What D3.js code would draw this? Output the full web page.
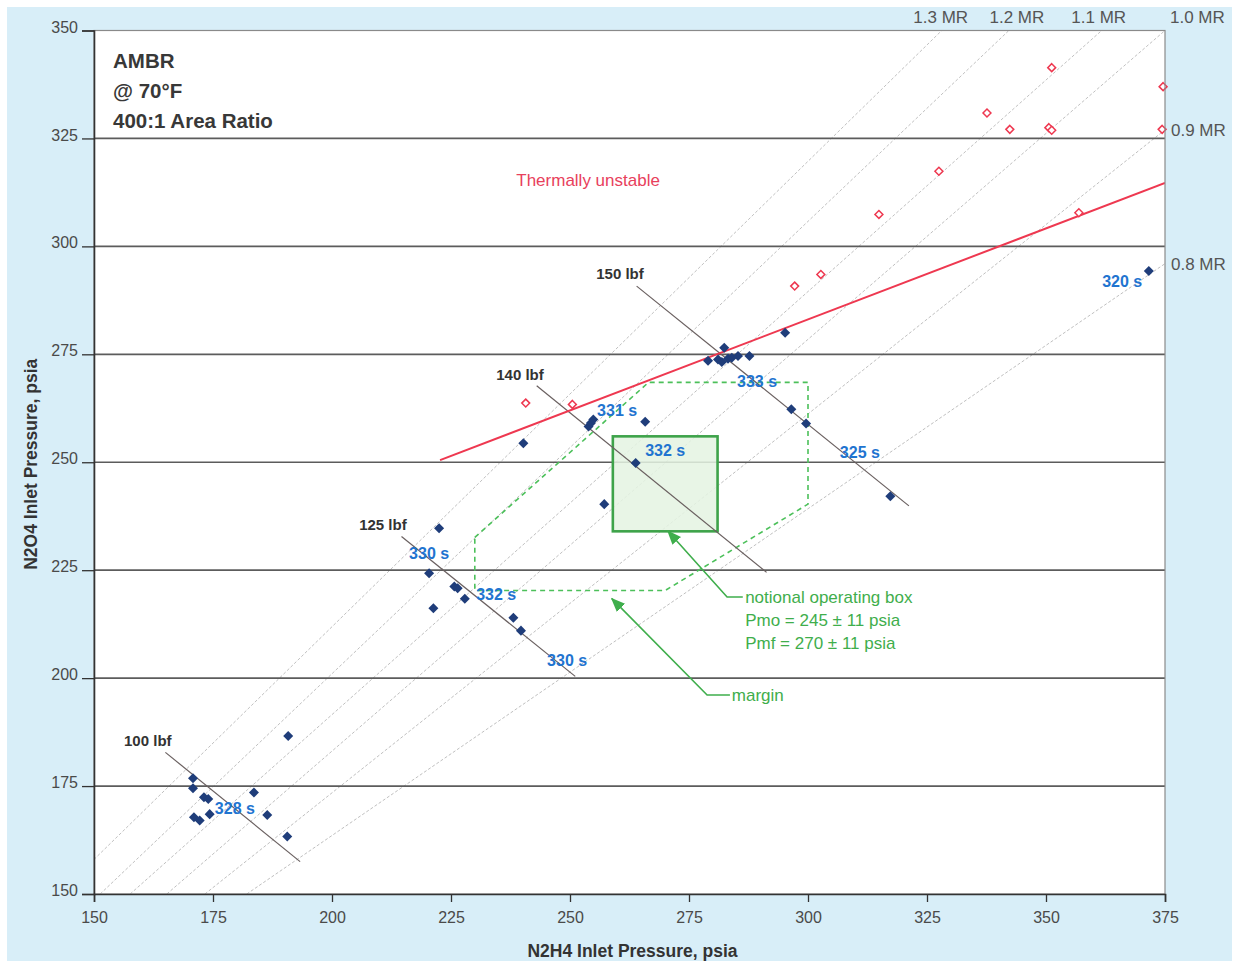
<!DOCTYPE html>
<html>
<head>
<meta charset="utf-8">
<script src="https://cdn.jsdelivr.net/npm/d3@7/dist/d3.min.js"></script>
<style>
  html, body { margin: 0; padding: 0; background: #ffffff; }
  svg { display: block; }
</style>
</head>
<body>
<svg id="chart" width="1237" height="964"></svg>
<script>
// ---- Axis ticks ----
const xTicks = [150, 175, 200, 225, 250, 275, 300, 325, 350, 375];
const yTicks = [150, 175, 200, 225, 250, 275, 300, 325, 350];
const gridLevels = [175, 200, 225, 250, 275, 300, 325];

// ---- Mixture-ratio reference lines (N2H4 psia, N2O4 psia) ----
const mrNames = ["1.3 MR", "1.2 MR", "1.1 MR", "1.0 MR", "0.9 MR", "0.8 MR"];
const mrUpper = [[328.1, 350], [342.2, 350], [361.7, 350], [375, 350], [375, 327], [375, 296]];
const mrLower = [[150, 158], [151.3, 150], [157.6, 150], [165.3, 150], [173.3, 150], [182.1, 150]];

// ---- Constant-thrust lines ----
const thrustNames = ["100 lbf", "125 lbf", "140 lbf", "150 lbf"];
const thrustStart = [[165.0, 182.8], [214.6, 232.8], [243.0, 267.7], [264.0, 290.8]];
const thrustEnd = [[193.3, 157.5], [251.1, 200.4], [291.3, 224.5], [321.2, 239.9]];

// ---- Stable test points (N2H4 psia, N2O4 psia) ----
const stableFuel = [
  190.8, 170.8, 170.8, 173.1, 174.0, 183.6, 174.3, 171.0, 172.2, 186.4, 190.6,
  222.5, 220.4, 225.7, 226.4, 227.9, 221.3, 238.1, 239.7,
  240.2, 253.9, 254.4, 254.9, 265.8, 263.8, 257.2,
  295.2, 282.4, 279.0, 281.1, 281.9, 283.2, 284.0, 285.3, 287.7, 296.5, 299.6, 317.3,
  371.6
];
const stableOx = [
  186.6, 176.8, 174.5, 172.4, 172.0, 173.5, 168.5, 167.8, 167.0, 168.3, 163.3,
  234.7, 224.3, 221.2, 220.8, 218.4, 216.2, 214.0, 211.0,
  254.4, 258.3, 259.1, 259.9, 259.4, 249.8, 240.3,
  280.0, 276.5, 273.5, 273.8, 273.2, 274.0, 274.2, 274.6, 274.6, 262.3, 259.0, 242.1,
  294.3
];

// ---- Thermally unstable test points ----
const unstableFuel = [351.2, 374.6, 337.6, 342.4, 350.6, 351.2, 374.4, 327.5, 314.9, 356.9, 297.2, 302.7, 240.7, 250.5];
const unstableOx = [341.4, 337.0, 330.9, 327.1, 327.5, 326.9, 327.1, 317.4, 307.4, 307.8, 290.8, 293.5, 263.7, 263.4];

// ---- Thermal stability boundary ----
const boundaryFuel = [222.7, 375];
const boundaryOx = [250.5, 314.7];

// ---- Operating box and margin envelope ----
const boxFuel = [259, 281];   // Pmf = 270 +/- 11
const boxOx = [234, 256];     // Pmo = 245 +/- 11
const marginFuel = [230.0, 266.5, 300.0, 300.0, 270.0, 230.0];
const marginOx = [232.6, 268.5, 268.5, 240.3, 220.3, 220.3];

// ---- Specific impulse labels ----
const ispText = ["328 s", "330 s", "332 s", "330 s", "331 s", "332 s", "333 s", "325 s", "320 s"];
const ispFuel = [179.6, 220.4, 234.5, 249.4, 259.9, 270.0, 289.3, 310.9, 366.0];
const ispOx = [169.9, 228.8, 219.3, 204.0, 262.1, 252.8, 268.8, 252.2, 291.8];

// ---- Layout ----
const svg = d3.select("#chart");
const W = 1237, H = 964;
const plot = { left: 94, right: 1165, top: 30.5, bottom: 894 };

const x = d3.scaleLinear().domain([150, 375]).range([plot.left, plot.right]);
const y = d3.scaleLinear().domain([150, 350]).range([plot.bottom, plot.top]);

const fontMain = "'Liberation Sans', Arial, sans-serif";
const fontNarrow = "'Liberation Sans Narrow', 'Liberation Sans', Arial, sans-serif";

// page backdrop
svg.append("rect").attr("x", 0).attr("y", 0).attr("width", W).attr("height", H).attr("fill", "#ffffff");
svg.append("rect").attr("x", 7).attr("y", 7).attr("width", W - 12).attr("height", H - 10).attr("fill", "#d8eef8");

// plot area
svg.append("rect")
  .attr("x", plot.left).attr("y", plot.top)
  .attr("width", plot.right - plot.left).attr("height", plot.bottom - plot.top)
  .attr("fill", "#ffffff");

const defs = svg.append("defs");
defs.append("clipPath").attr("id", "plotClip")
  .append("rect")
  .attr("x", plot.left).attr("y", plot.top)
  .attr("width", plot.right - plot.left).attr("height", plot.bottom - plot.top);

const inner = svg.append("g").attr("clip-path", "url(#plotClip)");

// mixture-ratio lines
inner.append("g").selectAll("line")
  .data(d3.range(mrUpper.length))
  .join("line")
  .attr("x1", i => x(mrLower[i][0])).attr("y1", i => y(mrLower[i][1]))
  .attr("x2", i => x(mrUpper[i][0])).attr("y2", i => y(mrUpper[i][1]))
  .attr("stroke", "#c0c0c0").attr("stroke-width", 1)
  .attr("stroke-dasharray", "3,2");

// horizontal grid lines
inner.append("g").selectAll("line")
  .data(gridLevels)
  .join("line")
  .attr("x1", plot.left).attr("x2", plot.right)
  .attr("y1", d => y(d)).attr("y2", d => y(d))
  .attr("stroke", "#5c5c5c").attr("stroke-width", 1.7);

// margin envelope
const marginPts = marginFuel.map((f, i) => [x(f), y(marginOx[i])]);
inner.append("path")
  .attr("d", d3.line()(marginPts) + "Z")
  .attr("fill", "none").attr("stroke", "#4cc05a").attr("stroke-width", 1.6)
  .attr("stroke-dasharray", "5,4");

// notional operating box
inner.append("rect")
  .attr("x", x(boxFuel[0])).attr("y", y(boxOx[1]))
  .attr("width", x(boxFuel[1]) - x(boxFuel[0]))
  .attr("height", y(boxOx[0]) - y(boxOx[1]))
  .attr("fill", "#e4f3e2").attr("fill-opacity", 0.85)
  .attr("stroke", "#3ea34a").attr("stroke-width", 2.6);

// constant-thrust lines
inner.append("g").selectAll("line")
  .data(d3.range(thrustStart.length))
  .join("line")
  .attr("x1", i => x(thrustStart[i][0])).attr("y1", i => y(thrustStart[i][1]))
  .attr("x2", i => x(thrustEnd[i][0])).attr("y2", i => y(thrustEnd[i][1]))
  .attr("stroke", "#6a6060").attr("stroke-width", 1.2);

// thermal stability boundary
inner.append("line")
  .attr("x1", x(boundaryFuel[0])).attr("y1", y(boundaryOx[0]))
  .attr("x2", x(boundaryFuel[1])).attr("y2", y(boundaryOx[1]))
  .attr("stroke", "#ee3850").attr("stroke-width", 2);

// diamond symbols
const diamond = d3.symbol().type(d3.symbolDiamond2 || d3.symbolDiamond).size(64);
const openDiamond = d3.symbol().type(d3.symbolDiamond2 || d3.symbolDiamond).size(40);

svg.append("g").selectAll("path")
  .data(d3.range(unstableFuel.length))
  .join("path")
  .attr("transform", i => `translate(${x(unstableFuel[i])},${y(unstableOx[i])})`)
  .attr("d", openDiamond)
  .attr("fill", "#ffffff").attr("stroke", "#ee3850").attr("stroke-width", 1.5);

svg.append("g").selectAll("path")
  .data(d3.range(stableFuel.length))
  .join("path")
  .attr("transform", i => `translate(${x(stableFuel[i])},${y(stableOx[i])})`)
  .attr("d", diamond)
  .attr("fill", "#1f3d7a");

// plot frame
svg.append("rect")
  .attr("x", plot.left).attr("y", plot.top)
  .attr("width", plot.right - plot.left).attr("height", plot.bottom - plot.top)
  .attr("fill", "none").attr("stroke", "#8a8a8a").attr("stroke-width", 1.2);

// axes
const xAxis = d3.axisBottom(x).tickValues(xTicks).tickSize(8).tickPadding(10);
const yAxis = d3.axisLeft(y).tickValues(yTicks).tickSize(12).tickPadding(4);

const gx = svg.append("g").attr("transform", `translate(0,${plot.bottom})`).call(xAxis);
const gy = svg.append("g").attr("transform", `translate(${plot.left},0)`).call(yAxis);
[gx, gy].forEach(g => {
  g.select(".domain").attr("stroke", "#333").attr("stroke-width", 1.6);
  g.selectAll(".tick line").attr("stroke", "#333").attr("stroke-width", 1.3);
  g.selectAll(".tick text")
    .attr("fill", "#4a4a4a").attr("font-family", fontMain).attr("font-size", 16);
});
gy.selectAll(".tick text").attr("dy", "0.1em");

// axis titles
svg.append("text")
  .attr("x", (plot.left + plot.right) / 2 + 3).attr("y", 957)
  .attr("text-anchor", "middle")
  .attr("font-family", fontNarrow).attr("font-weight", "bold").attr("font-size", 17.5)
  .attr("fill", "#333")
  .text("N2H4 Inlet Pressure, psia");

svg.append("text")
  .attr("transform", `translate(37,${(plot.top + plot.bottom) / 2 + 2}) rotate(-90)`)
  .attr("text-anchor", "middle")
  .attr("font-family", fontNarrow).attr("font-weight", "bold").attr("font-size", 17.5)
  .attr("fill", "#333")
  .text("N2O4 Inlet Pressure, psia");

// mixture-ratio labels
const mrLabelG = svg.append("g")
  .attr("font-family", fontMain).attr("font-size", 17).attr("fill", "#555");
mrNames.forEach((name, i) => {
  const [ux, uy] = mrUpper[i];
  const onTop = uy >= 350 && ux < 375;
  if (onTop) {
    const shift = name === "1.2 MR" ? 8 : (name === "1.1 MR" ? -3 : -1);
    mrLabelG.append("text")
      .attr("x", x(ux) + shift).attr("y", plot.top - 8)
      .attr("text-anchor", "middle")
      .text(name);
  } else if (uy >= 350) {
    mrLabelG.append("text")
      .attr("x", plot.right + 5).attr("y", plot.top - 8)
      .attr("text-anchor", "start")
      .text(name);
  } else {
    mrLabelG.append("text")
      .attr("x", plot.right + 6).attr("y", y(uy) + 6)
      .attr("text-anchor", "start")
      .text(name);
  }
});

// thrust labels
svg.append("g").selectAll("text")
  .data(thrustNames)
  .join("text")
  .attr("x", (d, i) => x([161.3, 210.7, 239.5, 260.5][i]))
  .attr("y", (d, i) => y([185.5, 235.5, 270.2, 293.6][i]))
  .attr("dy", "0.35em")
  .attr("text-anchor", "middle")
  .attr("font-family", fontMain).attr("font-weight", "bold").attr("font-size", 15)
  .attr("fill", "#333")
  .text(d => d);

// specific impulse labels
svg.append("g").selectAll("text")
  .data(ispText)
  .join("text")
  .attr("x", (d, i) => x(ispFuel[i]))
  .attr("y", (d, i) => y(ispOx[i]))
  .attr("dy", "0.35em")
  .attr("text-anchor", "middle")
  .attr("font-family", fontNarrow).attr("font-weight", "bold").attr("font-size", 16)
  .attr("fill", "#1f74d0")
  .text(d => d);

// title block
const title = svg.append("g")
  .attr("font-family", fontMain).attr("font-weight", "bold").attr("font-size", 20.5).attr("fill", "#383838");
["AMBR", "@ 70\u00B0F", "400:1 Area Ratio"].forEach((t, i) => {
  title.append("text").attr("x", 113).attr("y", 68 + i * 30).text(t);
});

// region label
svg.append("text")
  .attr("x", x(253.8)).attr("y", y(315.4)).attr("dy", "0.35em")
  .attr("text-anchor", "middle")
  .attr("font-family", fontMain).attr("font-size", 17)
  .attr("fill", "#e8405c")
  .text("Thermally unstable");

// green callouts
const green = "#3fae4c";
defs.append("marker")
  .attr("id", "arrowGreen").attr("viewBox", "0 0 10 10")
  .attr("refX", 9).attr("refY", 5)
  .attr("markerWidth", 9).attr("markerHeight", 9)
  .attr("orient", "auto")
  .append("path").attr("d", "M0,1 L10,5 L0,9 Z").attr("fill", green);

const callouts = [
  [[286.3, 218.8], [283.0, 218.8], [270.6, 234.0]],
  [[283.6, 196.1], [278.8, 196.1], [258.8, 218.4]]
];
svg.append("g").selectAll("path")
  .data(callouts)
  .join("path")
  .attr("d", d => d3.line()(d.map(p => [x(p[0]), y(p[1])])))
  .attr("fill", "none").attr("stroke", green).attr("stroke-width", 1.6)
  .attr("marker-end", "url(#arrowGreen)");

const calloutText = svg.append("g")
  .attr("font-family", fontMain).attr("font-size", 17).attr("fill", green);
["notional operating box", "Pmo = 245 \u00B1 11 psia", "Pmf = 270 \u00B1 11 psia"].forEach((t, i) => {
  calloutText.append("text")
    .attr("x", x(286.8)).attr("y", y(218.8) + i * 23).attr("dy", "0.35em")
    .text(t);
});
calloutText.append("text")
  .attr("x", x(284.0)).attr("y", y(196.1)).attr("dy", "0.35em")
  .text("margin");
</script>
</body>
</html>
